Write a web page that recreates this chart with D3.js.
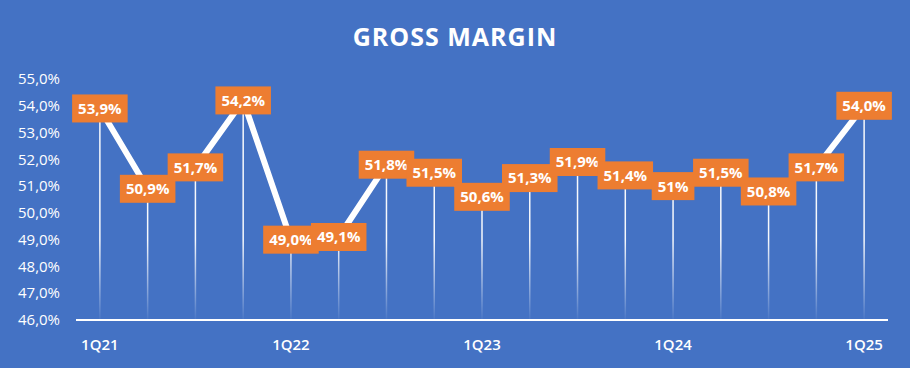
<!DOCTYPE html>
<html lang="en">
<head>
<meta charset="utf-8">
<title>Gross margin</title>
<style>
  body { margin: 0; padding: 0; background: #4472c4; }
  svg { display: block; font-family: "Open Sans", "Noto Sans", sans-serif; }
</style>
<script src="https://cdn.jsdelivr.net/npm/d3@7"></script>
</head>
<body>
<div id="root"></div>
<script>
  var quarters = ["1Q21","2Q21","3Q21","4Q21","1Q22","2Q22","3Q22","4Q22","1Q23","2Q23","3Q23","4Q23","1Q24","2Q24","3Q24","4Q24","1Q25"];
  var margin = [53.9, 50.9, 51.7, 54.2, 49.0, 49.1, 51.8, 51.5, 50.6, 51.3, 51.9, 51.4, 51.0, 51.5, 50.8, 51.7, 54.0];
  var labels = ["53,9%","50,9%","51,7%","54,2%","49,0%","49,1%","51,8%","51,5%","50,6%","51,3%","51,9%","51,4%","51%","51,5%","50,8%","51,7%","54,0%"];
  var xTicks = ["1Q21","1Q22","1Q23","1Q24","1Q25"];
  var yTicks = [46,47,48,49,50,51,52,53,54,55];

  var W = 910, H = 368;
  var data = quarters.map(function(q, i) { return {q: q, v: margin[i], label: labels[i]}; });

  var svg = d3.select("#root").append("svg")
    .attr("width", W).attr("height", H);

  svg.append("rect").attr("width", W).attr("height", H).attr("fill", "#4472c4");

  var x = d3.scaleBand().domain(quarters).range([76, 888]);
  var y = d3.scaleLinear().domain([46, 55]).range([320, 79]);
  var cx = function(d) { return x(d.q) + x.bandwidth() / 2; };

  var defs = svg.append("defs");
  var grad = defs.append("linearGradient")
    .attr("id", "drop").attr("gradientUnits", "userSpaceOnUse")
    .attr("x1", 0).attr("x2", 0).attr("y1", 240).attr("y2", 320);
  grad.append("stop").attr("offset", "0").attr("stop-color", "#fff").attr("stop-opacity", 0.95);
  grad.append("stop").attr("offset", "1").attr("stop-color", "#fff").attr("stop-opacity", 0.03);

  svg.append("text")
    .attr("x", 455).attr("y", 46)
    .attr("text-anchor", "middle")
    .attr("fill", "#fff")
    .style("font-size", "25px").style("font-weight", 700)
    .style("letter-spacing", "1px")
    .text("GROSS MARGIN");

  // y axis labels
  svg.append("g").selectAll("text").data(yTicks).enter().append("text")
    .attr("x", 60).attr("y", function(d) { return y(d); })
    .attr("dy", "0.35em")
    .attr("text-anchor", "end")
    .attr("fill", "#fff")
    .style("font-size", "15px")
    .text(function(d) { return d3.format(".1f")(d).replace(".", ",") + "%"; });

  // drop lines
  svg.append("g").selectAll("line").data(data).enter().append("line")
    .attr("x1", cx).attr("x2", cx)
    .attr("y1", function(d) { return y(d.v); })
    .attr("y2", y(46))
    .attr("stroke", "url(#drop)")
    .attr("stroke-width", 1.5);

  // baseline
  svg.append("line")
    .attr("x1", 76).attr("x2", 888)
    .attr("y1", y(46)).attr("y2", y(46))
    .attr("stroke", "#fff").attr("stroke-width", 2);

  // x labels
  svg.append("g").selectAll("text").data(xTicks).enter().append("text")
    .attr("x", function(d) { return x(d) + x.bandwidth() / 2; })
    .attr("y", 350)
    .attr("text-anchor", "middle")
    .attr("fill", "#fff")
    .style("font-size", "15px").style("font-weight", 600)
    .text(function(d) { return d; });

  // main line
  var line = d3.line().x(cx).y(function(d) { return y(d.v); });
  svg.append("path")
    .datum(data)
    .attr("d", line)
    .attr("fill", "none")
    .attr("stroke", "#fff")
    .attr("stroke-width", 6)
    .attr("stroke-linejoin", "round");

  // data labels
  var lab = svg.append("g").selectAll("g").data(data).enter().append("g")
    .attr("transform", function(d) { return "translate(" + cx(d) + "," + y(d.v) + ")"; });
  var txt = lab.append("text")
    .attr("text-anchor", "middle")
    .attr("dy", "0.36em")
    .attr("fill", "#fff")
    .style("font-size", "15px").style("font-weight", 700)
    .text(function(d) { return d.label; });
  lab.insert("rect", "text")
    .attr("fill", "#ed7d31")
    .attr("height", 28)
    .attr("y", -14)
    .each(function(d, i) {
      var w = txt.nodes()[i].getComputedTextLength() + 12;
      d3.select(this).attr("x", -w / 2).attr("width", w);
    });
</script>
</body>
</html>
